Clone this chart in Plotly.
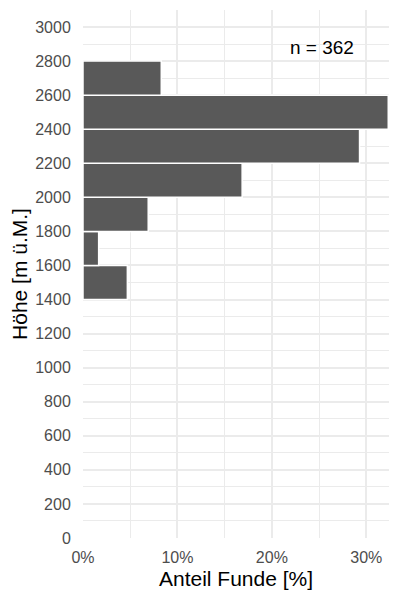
import plotly.graph_objects as go

# histogram bins (m ü.M.) and counts of finds
bin_start = [1400, 1600, 1800, 2000, 2200, 2400, 2600]
bin_width = 200
counts = [17, 6, 25, 61, 106, 117, 30]
n_total = sum(counts)

share = [c / n_total * 100 for c in counts]
centers = [b + bin_width / 2 for b in bin_start]

fig = go.Figure(go.Bar(
    y=centers,
    x=share,
    width=[bin_width] * len(centers),
    orientation="h",
    marker=dict(color="#595959", line=dict(color="white", width=1.5)),
    hoverinfo="skip",
))

fig.add_annotation(
    x=25.3, y=2880, xref="x", yref="y",
    text=f"n = {n_total}", showarrow=False,
    font=dict(size=19, color="black"),
)

grid = "#EBEBEB"
# page body adds an 8px offset, so margins are shifted to compensate
fig.update_layout(
    width=400, height=600,
    margin=dict(l=75, r=19, t=2, b=70),
    paper_bgcolor="white", plot_bgcolor="white",
    font=dict(family="Liberation Sans, Arial, sans-serif"),
    showlegend=False,
    xaxis=dict(
        range=[0, 32.4],
        tickvals=[0, 10, 20, 30],
        ticktext=["0%", "10%", "20%", "30%"],
        tickfont=dict(size=16, color="#4D4D4D"),
        title=dict(text="Anteil Funde [%]", font=dict(size=21, color="black"), standoff=6),
        automargin=False,
        showgrid=True, gridcolor=grid, gridwidth=1.5,
        minor=dict(tickvals=[5, 15, 25], showgrid=True, gridcolor=grid, gridwidth=0.7),
        zeroline=False, showline=False,
        ticks="outside", ticklen=5, tickcolor="rgba(0,0,0,0)",
    ),
    yaxis=dict(
        range=[0, 3100],
        tickvals=list(range(0, 3001, 200)),
        tickfont=dict(size=16, color="#4D4D4D"),
        title=dict(text="Höhe [m ü.M.]", font=dict(size=21, color="black"), standoff=4),
        automargin=False,
        showgrid=True, gridcolor=grid, gridwidth=1.5,
        minor=dict(tickvals=list(range(100, 3101, 200)), showgrid=True, gridcolor=grid, gridwidth=0.7),
        zeroline=False, showline=False,
        ticks="outside", ticklen=8, tickcolor="rgba(0,0,0,0)",
    ),
)

fig.write_html("out.html")
